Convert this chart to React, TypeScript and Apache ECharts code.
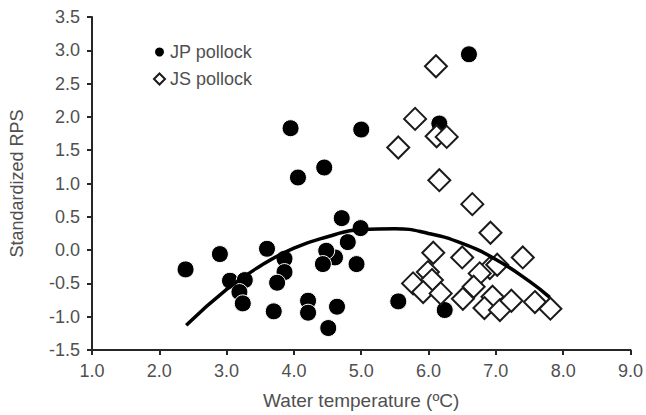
import React, { useEffect, useRef } from "react";
import * as echarts from "echarts";

const jpTemp = [2.39, 2.9, 3.05, 3.27, 3.19, 3.24, 3.6, 3.86, 3.86, 3.75, 3.7, 4.21, 4.21, 3.95, 4.06, 4.45, 4.71, 4.99, 4.8, 4.61, 4.48, 4.43, 4.93, 4.64, 4.51, 5.55, 5.0, 6.6, 6.16, 6.24];
const jpRps = [-0.29, -0.06, -0.46, -0.45, -0.63, -0.8, 0.02, -0.13, -0.33, -0.49, -0.92, -0.76, -0.94, 1.83, 1.09, 1.24, 0.48, 0.33, 0.12, -0.11, -0.01, -0.21, -0.21, -0.85, -1.17, -0.77, 1.81, 2.94, 1.9, -0.9];

const jsTemp = [6.11, 5.8, 6.12, 6.27, 5.55, 6.16, 6.65, 6.92, 6.07, 6.5, 7.4, 6.91, 7.02, 6.76, 5.99, 5.77, 6.05, 5.92, 6.18, 6.51, 6.67, 6.95, 6.83, 7.06, 7.23, 7.58, 7.81];
const jsRps = [2.76, 1.97, 1.71, 1.7, 1.54, 1.05, 0.69, 0.26, -0.04, -0.11, -0.11, -0.27, -0.22, -0.35, -0.33, -0.5, -0.45, -0.63, -0.65, -0.73, -0.55, -0.7, -0.87, -0.9, -0.76, -0.78, -0.88];

const curveTemp = [2.4, 3.0, 3.5, 4.0, 4.5, 5.0, 5.5, 6.0, 6.5, 7.0, 7.5, 7.8];
const curveRps = [-1.13, -0.59, -0.24, 0.03, 0.2, 0.31, 0.32, 0.25, 0.1, -0.14, -0.47, -0.71];

const seriesNames = ["JP pollock", "JS pollock"];
const xTitle = "Water temperature (ºC)";
const yTitle = "Standardized RPS";

const FONT = "Liberation Sans, Arial, sans-serif";
const TEXT = "#505050";

export default function App() {
  const ref = useRef<HTMLDivElement>(null);
  useEffect(() => {
    if (!ref.current) return;
    const chart = echarts.init(ref.current, undefined, { renderer: "svg" });
    const zip = (a: number[], b: number[]) => a.map((v, i) => [v, b[i]]);
    chart.setOption({
      animation: false,
      backgroundColor: "#ffffff",
      textStyle: { fontFamily: FONT },
      grid: { left: 92, right: 15, top: 17, bottom: 63 },
      legend: {
        orient: "vertical",
        left: 148,
        top: 38,
        itemWidth: 11,
        itemHeight: 11,
        itemGap: 9,
        data: seriesNames,
        textStyle: { fontFamily: FONT, fontSize: 18, color: TEXT },
      },
      xAxis: {
        type: "value",
        min: 1,
        max: 9,
        interval: 1,
        name: xTitle,
        nameLocation: "middle",
        nameGap: 41,
        nameTextStyle: { fontFamily: FONT, fontSize: 19, color: TEXT },
        axisLine: { show: true, onZero: false, lineStyle: { color: "#262626", width: 2 } },
        axisTick: { show: true, length: 5, lineStyle: { color: "#262626", width: 2 } },
        axisLabel: { margin: 12, fontFamily: FONT, fontSize: 18, color: TEXT, formatter: (v: number) => v.toFixed(1) },
        splitLine: { show: false },
      },
      yAxis: {
        type: "value",
        min: -1.5,
        max: 3.5,
        interval: 0.5,
        name: yTitle,
        nameLocation: "middle",
        nameGap: 66,
        nameTextStyle: { fontFamily: FONT, fontSize: 18, color: TEXT },
        axisLine: { show: true, onZero: false, lineStyle: { color: "#262626", width: 2 } },
        axisTick: { show: true, length: 5, lineStyle: { color: "#262626", width: 2 } },
        axisLabel: { margin: 12, fontFamily: FONT, fontSize: 18, color: TEXT, formatter: (v: number) => v.toFixed(1) },
        splitLine: { show: false },
      },
      series: [
        {
          name: seriesNames[0],
          type: "scatter",
          symbol: "circle",
          symbolSize: 17,
          itemStyle: { color: "#000000", borderColor: "#ffffff", borderWidth: 1, opacity: 1 },
          data: zip(jpTemp, jpRps),
          z: 2,
        },
        {
          name: seriesNames[1],
          type: "scatter",
          symbol: "diamond",
          symbolSize: 22,
          itemStyle: { color: "#ffffff", borderColor: "#1a1a1a", borderWidth: 2, opacity: 1 },
          data: zip(jsTemp, jsRps),
          z: 3,
        },
        {
          name: "fit",
          type: "line",
          smooth: true,
          showSymbol: false,
          symbol: "none",
          lineStyle: { color: "#000000", width: 3.5 },
          data: zip(curveTemp, curveRps),
          z: 4,
        },
      ],
    });
    return () => chart.dispose();
  }, []);
  return (
    <div
      ref={ref}
      style={{ position: "fixed", left: 0, top: 0, width: 646, height: 415, background: "#fff" }}
    />
  );
}
